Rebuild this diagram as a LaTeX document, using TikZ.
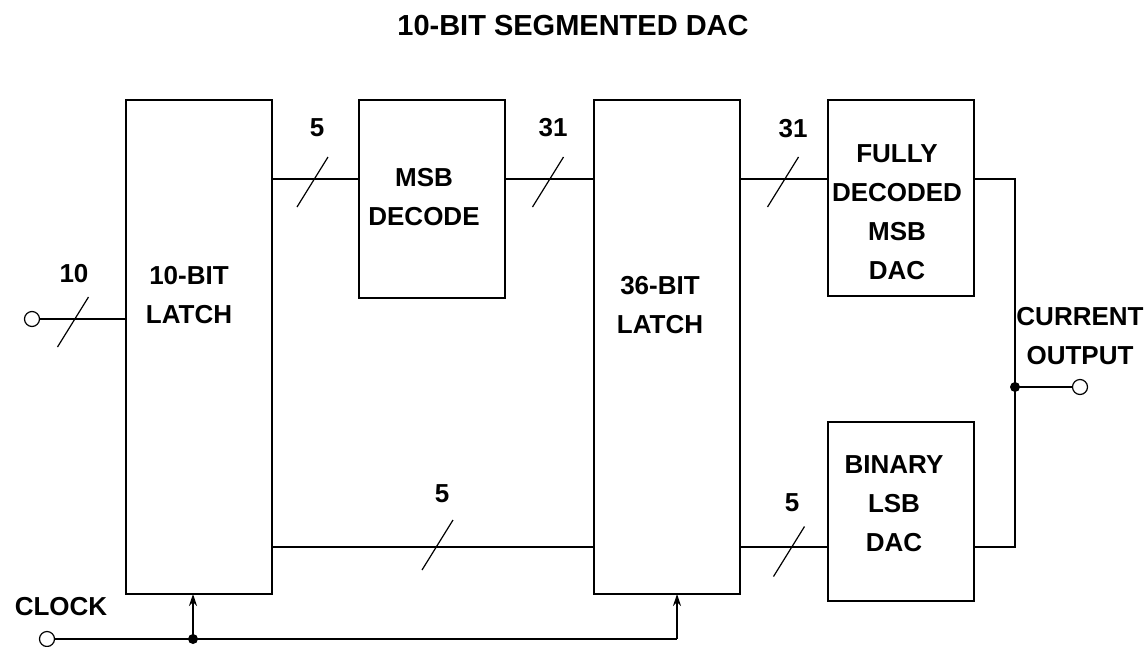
\documentclass[tikz,border=0pt]{standalone}
\usepackage{fontspec}
\setmainfont{Liberation Sans}
\usetikzlibrary{arrows.meta}
\begin{document}
\begin{tikzpicture}[x=1pt,y=-1pt,
  every path/.style={line width=1.2pt},
  blk/.style={draw,rectangle,inner sep=0pt,outer sep=0pt,anchor=north west},
  lbl/.style={font=\bfseries\fontsize{26}{39}\selectfont,align=center,inner sep=0pt},
  term/.style={draw,circle,fill=white,minimum size=15pt,inner sep=0pt,outer sep=0pt},
  dot/.style={fill,circle,minimum size=10pt,inner sep=0pt},
  clkarrow/.style={-{Stealth[length=12pt,width=8pt,inset=4pt]}},
  busslash/.pic={\draw (-15.5,25) -- (15.5,-25);}
]
\useasboundingbox (0,0) rectangle (1146,646);

% title
\node[lbl,font=\bfseries\fontsize{29}{35}\selectfont] (title) at (573,26) {10-BIT SEGMENTED DAC};

% blocks
\node[blk,minimum width=146pt,minimum height=494pt] (L10) at (126,100) {};
\node[blk,minimum width=146pt,minimum height=198pt] (MSB) at (359,100) {};
\node[blk,minimum width=146pt,minimum height=494pt] (L36) at (594,100) {};
\node[blk,minimum width=146pt,minimum height=196pt] (FD) at (828,100) {};
\node[blk,minimum width=146pt,minimum height=179pt] (BL) at (828,422) {};

% block texts
\node[lbl] (tL10) at (189,295) {10-BIT\\LATCH};
\node[lbl] (tMSB) at (424,197) {MSB\\DECODE};
\node[lbl] (tL36) at (660,305) {36-BIT\\LATCH};
\node[lbl] (tFD) at (897,212) {FULLY\\DECODED\\MSB\\DAC};
\node[lbl] (tBL) at (894,504) {BINARY\\LSB\\DAC};
\node[lbl] (tOut) at (1080,336) {CURRENT\\OUTPUT};
\node[lbl] (tClk) at (61,607) {CLOCK};

% bus labels
\node[lbl] (n10) at (74,274) {10};
\node[lbl] (n5a) at (317,128) {5};
\node[lbl] (n31a) at (553,128) {31};
\node[lbl] (n31b) at (793,129) {31};
\node[lbl] (n5b) at (442,494) {5};
\node[lbl] (n5c) at (792,503) {5};

% reference rows
\coordinate (ty) at (0,179);
\coordinate (by) at (0,547);

% input
\node[term] (in) at (32,319) {};
\draw (in.east) -- (in.east -| L10.west);
\pic at (73,322) {busslash};

% buses
\draw (L10.east |- ty) -- (MSB.west |- ty);
\pic at (312.5,182) {busslash};
\draw (MSB.east |- ty) -- (L36.west |- ty);
\pic at (548,182) {busslash};
\draw (L36.east |- ty) -- (FD.west |- ty);
\pic at (783,182) {busslash};
\draw (L10.east |- by) -- (L36.west |- by);
\pic at (437.5,545) {busslash};
\draw (L36.east |- by) -- (BL.west |- by);
\pic at (789,551.5) {busslash};

% output summing
\coordinate (ot) at (1015,179);
\coordinate (ob) at (1015,547);
\coordinate (oj) at (1015,387);
\draw (FD.east |- ot) -- (ot) -- (ob) -- (BL.east |- ob);
\node[term] (out) at (1080,387) {};
\draw (oj) -- (out.west);
\node[dot] (ojd) at (oj) {};

% clock
\node[term] (clk) at (47,639) {};
\coordinate (cj) at (193,639);
\coordinate (ck) at (677,639);
\draw (clk.east) -- (ck);
\draw[clkarrow] (cj) -- (cj |- L10.south);
\draw[clkarrow] (ck) -- (ck |- L36.south);
\node[dot] (cjd) at (cj) {};
\end{tikzpicture}
\end{document}
